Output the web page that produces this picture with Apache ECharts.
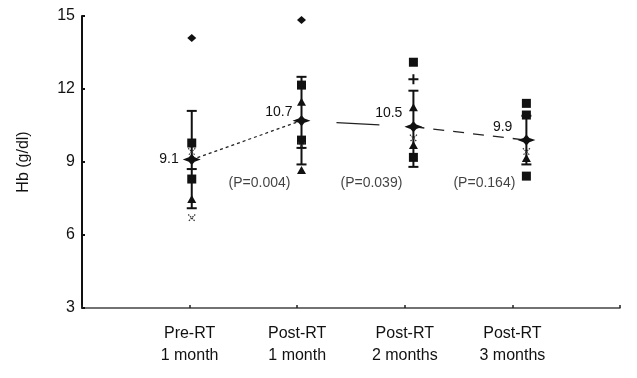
<!DOCTYPE html>
<html>
<head>
<meta charset="utf-8">
<script src="https://cdn.jsdelivr.net/npm/echarts@6/dist/echarts.min.js"></script>
<style>
  html, body { margin: 0; padding: 0; background: #fff; }
  #chart { width: 637px; height: 378px; }
</style>
</head>
<body>
<div id="chart"></div>
<script>
// categories and where each group sits on the x scale
const categories = ['Pre-RT\n1 month', 'Post-RT\n1 month', 'Post-RT\n2 months', 'Post-RT\n3 months'];
const groupX = [1.02, 2.04, 3.08, 4.13];

// group means and error bars
const means = [9.1, 10.7, 10.45, 9.9];
const meanLabels = ['9.1', '10.7', '10.5', '9.9'];
const barLow = [7.1, 8.9, 8.8, 8.9];
const barHigh = [11.1, 12.5, 11.93, 10.9];

// individual values: [group index, Hb]
const squarePts = [[0, 9.78], [0, 8.3], [1, 12.16], [1, 9.9], [2, 13.1], [2, 9.19], [3, 11.41], [3, 10.93], [3, 8.42]];
const trianglePts = [[0, 7.48], [1, 11.48], [1, 8.67], [2, 11.25], [2, 9.7], [3, 9.16]];
const blobPts = [[0, 14.1], [1, 14.84]];
const plusPts = [[2, 12.4]];
const crossPts = [[0, 9.42], [0, 6.7], [1, 9.66], [2, 9.98], [3, 9.42]];
const dashPts = [[0, 8.71], [1, 9.58]];

// p-values vs previous timepoint
const pValues = ['(P=0.004)', '(P=0.039)', '(P=0.164)'];
const pLevel = 8.15;

const yTicks = [3, 6, 9, 12, 15];

const FONT = '"Liberation Sans", Arial, sans-serif';
const INK = '#111';
const toXY = pts => pts.map(p => [groupX[p[0]], p[1]]);

const chart = echarts.init(document.getElementById('chart'));

function seg(i, lineType, dashOffset) {
  return {
    type: 'line',
    data: [[groupX[i], means[i]], [groupX[i + 1], means[i + 1]]],
    symbol: 'none',
    silent: true,
    z: 1,
    lineStyle: { color: '#222', width: 1.3, type: lineType, dashOffset: dashOffset || 0 }
  };
}

function dots(data, symbol, size, extra) {
  return {
    type: 'scatter', z: 3, data: toXY(data), symbol: symbol, symbolSize: size,
    itemStyle: Object.assign({ color: INK, opacity: 1 }, extra || {})
  };
}

chart.setOption({
  animation: false,
  grid: { left: 82, right: 17, top: 16, bottom: 70 },
  xAxis: {
    type: 'value',
    min: 0, max: 5, interval: 1,
    axisLine: { lineStyle: { color: '#444', width: 1.5 } },
    axisTick: { inside: true, length: 3, lineStyle: { color: '#222', width: 1.5 } },
    splitLine: { show: false },
    axisLabel: {
      color: INK, fontFamily: FONT, fontSize: 16, lineHeight: 22, margin: 15,
      formatter: v => (v >= 1 && v <= 4 ? categories[v - 1] : '')
    }
  },
  yAxis: {
    type: 'value',
    min: yTicks[0], max: yTicks[yTicks.length - 1], interval: 3,
    name: 'Hb (g/dl)',
    nameLocation: 'middle',
    nameGap: 50,
    nameRotate: 90,
    nameTextStyle: { color: INK, fontFamily: FONT, fontSize: 16 },
    axisLine: { show: true, lineStyle: { color: INK, width: 2 } },
    axisTick: { show: true, inside: true, length: 3, lineStyle: { color: INK, width: 2 } },
    splitLine: { show: false },
    axisLabel: { color: INK, fontFamily: FONT, fontSize: 16, margin: 7 }
  },
  series: [
    seg(0, [3, 3]),
    seg(1, [43, 69], 77),
    seg(2, [11, 9]),
    {
      type: 'custom',
      z: 2,
      data: groupX.map((x, i) => [x, barLow[i], barHigh[i]]),
      renderItem(params, api) {
        const hi = api.coord([api.value(0), api.value(2)]);
        const lo = api.coord([api.value(0), api.value(1)]);
        const st = { stroke: INK, lineWidth: 2 };
        return {
          type: 'group',
          children: [
            { type: 'line', shape: { x1: hi[0], y1: hi[1], x2: lo[0], y2: lo[1] }, style: st },
            { type: 'line', shape: { x1: hi[0] - 5, y1: hi[1], x2: hi[0] + 5, y2: hi[1] }, style: st },
            { type: 'line', shape: { x1: lo[0] - 5, y1: lo[1], x2: lo[0] + 5, y2: lo[1] }, style: st }
          ]
        };
      }
    },
    dots(squarePts, 'rect', 9),
    dots(trianglePts, 'triangle', [9, 8]),
    dots(blobPts, 'diamond', [9, 8]),
    dots(plusPts, 'path://M4,0h2v10h-2z M0,4h10v2h-10z', 10),
    dots(crossPts, 'path://M0,0L10,10M10,0L0,10', 7, { color: 'none', borderColor: '#333', borderWidth: 1.2, borderType: [1.5, 1] }),
    dots(dashPts, 'rect', [10, 2]),
    {
      type: 'scatter',
      z: 4,
      data: groupX.map((x, i) => ({
        value: [x, means[i]],
        label: { offset: [[0, 0], [4, -8], [2, -14], [-1, -13]][i] }
      })),
      symbol: 'path://M0,5 L6,3 L9,0 L12,3 L18,5 L12,7 L9,10 L6,7 Z',
      symbolSize: [18, 11],
      itemStyle: { color: INK, opacity: 1 },
      label: {
        show: true, position: 'left', distance: 4,
        color: INK, fontFamily: FONT, fontSize: 14,
        formatter: p => meanLabels[p.dataIndex]
      }
    },
    {
      type: 'scatter',
      z: 4,
      silent: true,
      data: pValues.map((t, i) => [groupX[i + 1], pLevel]),
      symbolSize: 0,
      label: {
        show: true, position: 'inside', offset: [-42, 0],
        color: INK, fontFamily: FONT, fontSize: 14,
        formatter: p => pValues[p.dataIndex]
      }
    }
  ]
});
</script>
</body>
</html>
